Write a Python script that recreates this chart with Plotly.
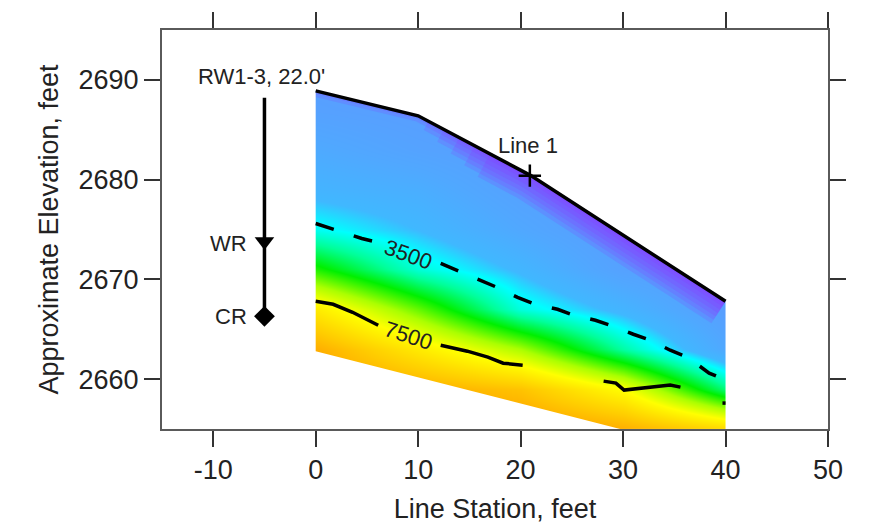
import numpy as np
import plotly.graph_objects as go

# ---------------- data ----------------
stations = [0, 10, 20, 30, 40]                       # line station, ft
elev_rows = [2655, 2659, 2663, 2667, 2671, 2675, 2679, 2683, 2687, 2691]
# field values (rows = elev_rows, cols = stations)
field = [
    [10000, 10000, 10000, 9500, 8500],
    [10000, 9500, 9000, 7500, 4500],
    [9500, 8000, 6500, 4200, 2200],
    [8000, 6000, 3750, 2800, 1600],
    [5500, 3800, 2900, 1800, 1500],
    [3620, 3000, 2200, 1500, 1500],
    [2800, 2500, 1800, 1500, 1500],
    [2300, 1900, 1600, 1500, 1500],
    [1800, 1600, 1500, 1500, 1500],
    [1600, 1500, 1500, 1500, 1500],
]

top_x = [0, 10, 21, 40]
top_y = [2688.9, 2686.4, 2680.4, 2667.8]
bot_x = [0, 40]
bot_y = [2662.8, 2652.3]

c3500_x = [0, 2.4, 4.5, 6.1, None, 12.2, 14.1, 16.1, 17.7, 19.7, 21.2, 23.6, 25.2,
           27.3, 29.0, 31.0, 32.7, 34.6, 36.3, 38.4, 39.8]
c3500_y = [2675.6, 2674.8, 2674.1, 2673.7, None, 2671.6, 2670.8, 2669.9, 2669.2,
           2668.2, 2667.6, 2667.0, 2666.4, 2665.9, 2665.3, 2664.5, 2663.9, 2662.9,
           2662.2, 2660.6, 2660.0]
c7500_x = [0, 1.7, 3.6, 6.1, None, 12.2, 14.8, 16.8, 18.3, 20.2, None,
           28.1, 29.3, 30.1, 31.0, 33.0, 34.6, 35.6, None, 39.7, 40.0]
c7500_y = [2667.8, 2667.5, 2666.7, 2665.4, None, 2663.4, 2662.8, 2662.2, 2661.6,
           2661.4, None, 2659.8, 2659.6, 2658.9, 2659.0, 2659.2, 2659.4, 2659.2,
           None, 2657.6, 2657.6]

bore_x = -5
bore_top = 2688.2
wr_elev = 2673.8
cr_elev = 2666.3
line1_x, line1_y = 20.9, 2680.4

x_ticks = [-10, 0, 10, 20, 30, 40, 50]
y_ticks = [2660, 2670, 2680, 2690]

colorscale = [
    [0.00, '#9a00ff'],
    [0.05, '#9040ff'],
    [0.10, '#7a70ff'],
    [0.15, '#5a9cff'],
    [0.22, '#50a8ff'],
    [0.30, '#40b8ff'],
    [0.35, '#00ffff'],
    [0.43, '#00ff99'],
    [0.53, '#00f000'],
    [0.65, '#aaff00'],
    [0.75, '#ffff00'],
    [0.88, '#ffcc00'],
    [1.00, '#ff9900'],
]

FONT = "Liberation Sans, Arial, sans-serif"
TXT = "#222222"

fig = go.Figure()

fig.add_trace(go.Heatmap(x=stations, y=elev_rows, z=field, zmin=0, zmax=10000,
                         colorscale=colorscale, zsmooth='best', showscale=False,
                         hoverinfo='skip'))

# low-value (violet) skin just under the ground surface, built up in soft layers
skin = [(52, 17.0), (44, 15.5), (36, 14.0), (28, 12.5), (20, 11.0), (12, 0.0), (6, 0.0)]
for w, x0 in skin:
    xs = [x0] + [v for v in top_x if v > x0]
    ys = list(np.interp(xs, top_x, top_y))
    fig.add_trace(go.Scatter(x=xs, y=ys, mode='lines',
                             line=dict(width=w, color='rgba(150,40,255,0.15)'),
                             hoverinfo='skip', showlegend=False))

# white masks outside the section
xl, xr = stations[0], stations[-1]
mask_polys = [
    ([xl - 6, xl, xl, xl - 6], [2650, 2650, 2694, 2694]),
    ([xr, xr + 6, xr + 6, xr], [2650, 2650, 2694, 2694]),
    ([xl - 6] + top_x + [xr + 6, xr + 6, xl - 6],
     [top_y[0]] + top_y + [top_y[-1], 2694, 2694]),
    ([xl - 6] + bot_x + [xr + 6, xr + 6, xl - 6],
     [bot_y[0]] + bot_y + [bot_y[-1], 2650, 2650]),
]
for mx, my in mask_polys:
    fig.add_trace(go.Scatter(x=mx + [mx[0]], y=my + [my[0]], mode='lines',
                             fill='toself', fillcolor='white',
                             line=dict(width=0, color='white'),
                             hoverinfo='skip', showlegend=False))

# ground surface
fig.add_trace(go.Scatter(x=top_x, y=top_y, mode='lines',
                         line=dict(color='black', width=3.5), showlegend=False))
# contours
fig.add_trace(go.Scatter(x=c3500_x, y=c3500_y, mode='lines',
                         line=dict(color='black', width=3.5, dash='19px,21px'),
                         showlegend=False))
fig.add_trace(go.Scatter(x=c7500_x, y=c7500_y, mode='lines',
                         line=dict(color='black', width=3.5), showlegend=False))
# borehole
fig.add_trace(go.Scatter(x=[bore_x, bore_x], y=[bore_top, cr_elev], mode='lines',
                         line=dict(color='black', width=3.5), showlegend=False))
fig.add_trace(go.Scatter(x=[bore_x], y=[wr_elev], mode='markers',
                         marker=dict(symbol='triangle-down', size=17, color='black'),
                         showlegend=False))
fig.add_trace(go.Scatter(x=[bore_x], y=[cr_elev], mode='markers',
                         marker=dict(symbol='diamond', size=16, color='black'),
                         showlegend=False))
# Line 1 crossing
fig.add_trace(go.Scatter(x=[line1_x], y=[line1_y], mode='markers',
                         marker=dict(symbol='cross-thin', size=16,
                                     line=dict(color='black', width=2.5)),
                         showlegend=False))

ann_font = dict(family=FONT, size=22, color=TXT)
annotations = [
    dict(x=-5.3, y=2690.3, text="RW1-3, 22.0'", showarrow=False, font=ann_font),
    dict(x=-6.5, y=2673.6, text="WR", showarrow=False, xanchor='right', font=ann_font),
    dict(x=-6.5, y=2666.3, text="CR", showarrow=False, xanchor='right', font=ann_font),
    dict(x=20.75, y=2683.4, text="Line 1", showarrow=False, font=ann_font),
    dict(x=9.03, y=2672.5, text="3500", showarrow=False, textangle=20, font=ann_font),
    dict(x=9.03, y=2664.4, text="7500", showarrow=False, textangle=18, font=ann_font),
]
for a in annotations:
    a.update(xref='x', yref='y')

axis_common = dict(showline=True, linecolor='#5a5a5a', linewidth=2,
                   mirror='ticks', ticks='outside', ticklen=16, tickwidth=2,
                   tickcolor='#333333', showgrid=False, zeroline=False,
                   tickfont=dict(family=FONT, size=27, color=TXT))

fig.update_layout(
    width=870, height=531,
    margin=dict(l=162, r=42, t=20, b=99),
    paper_bgcolor='white', plot_bgcolor='white',
    showlegend=False,
    annotations=annotations,
    xaxis=dict(range=[-15, 50], tickvals=x_ticks,
               ticktext=[str(v) for v in x_ticks],
               title=dict(text='Line Station, feet',
                          font=dict(family=FONT, size=27, color=TXT), standoff=15),
               **axis_common),
    yaxis=dict(range=[2655, 2695], tickvals=y_ticks,
               ticktext=[str(v) for v in y_ticks],
               title=dict(text='Approximate Elevation, feet',
                          font=dict(family=FONT, size=27, color=TXT), standoff=12),
               **axis_common),
)

fig.write_html("out.html")
